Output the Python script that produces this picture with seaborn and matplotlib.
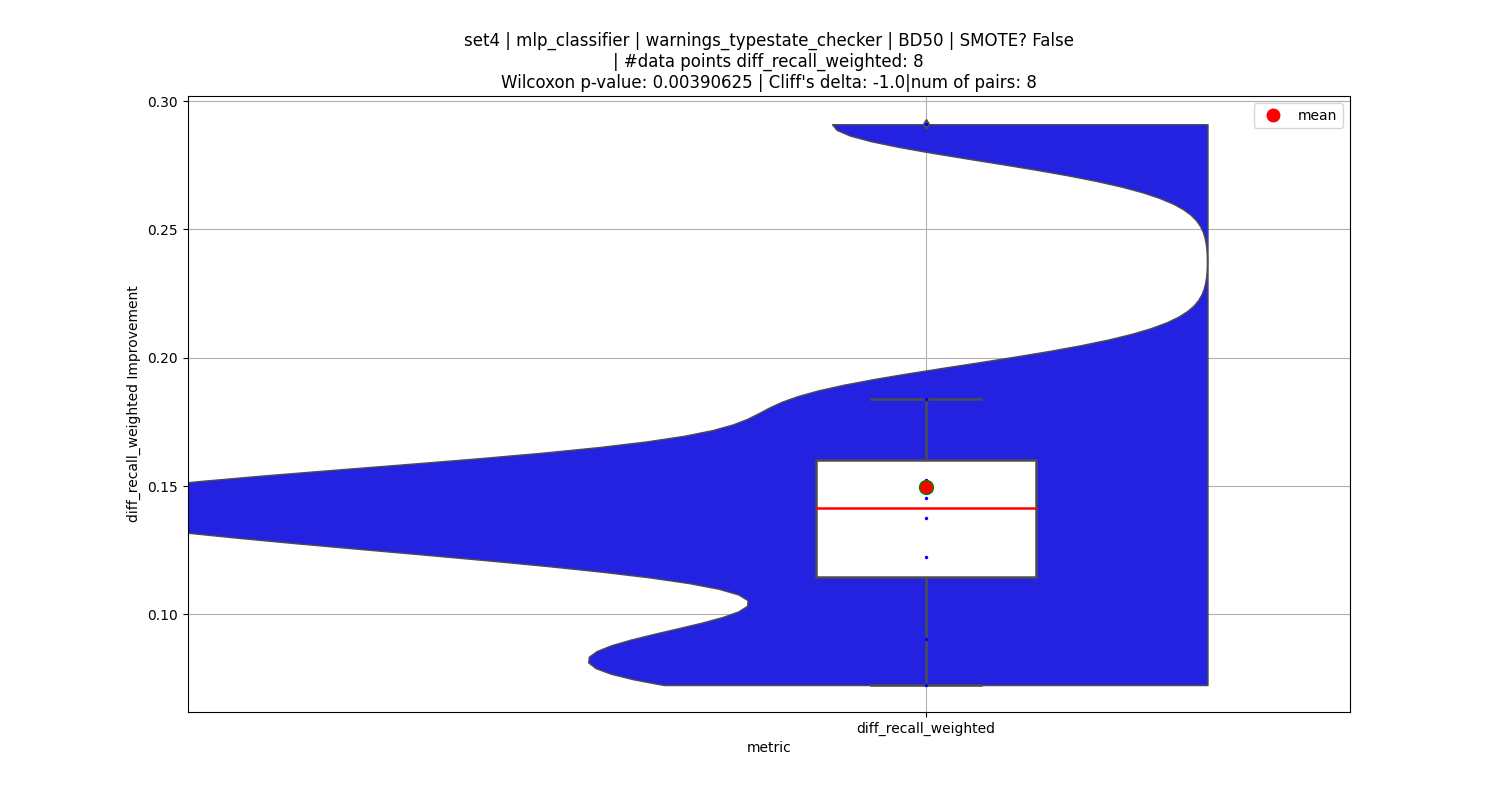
import matplotlib
matplotlib.use("Agg")
import matplotlib.pyplot as plt
import seaborn as sns
import numpy as np
import pandas as pd

values = [0.0725, 0.0905, 0.1225, 0.1375, 0.1455, 0.1525, 0.184, 0.291]
metric = "diff_recall_weighted"
title = ("set4 | mlp_classifier | warnings_typestate_checker | BD50 | SMOTE? False\n"
         "| #data points diff_recall_weighted: 8\n"
         "Wilcoxon p-value: 0.00390625 | Cliff's delta: -1.0|num of pairs: 8")

df = pd.DataFrame({"value": values, "pos": 0.0, "vpos": -1.076, "h": "a"})

fig, ax = plt.subplots(figsize=(15, 8), dpi=100)
sns.violinplot(data=df, x="vpos", y="value", hue="h", hue_order=["a", "b"], split=True,
               native_scale=True, inner=None, cut=0, bw_adjust=0.32, width=4.2,
               density_norm="width", palette=["#2222e0", "#2222e0"], saturation=1,
               linecolor="#4d4d4d", linewidth=1, legend=False, ax=ax)
for c in ax.collections:
    c.set_zorder(1)
sns.boxplot(data=df, x="pos", y="value", native_scale=True, width=0.8,
            color="white", linecolor="#4d4d4d", linewidth=1.8,
            medianprops=dict(color="red"),
            flierprops=dict(marker="d", markerfacecolor="#4d4d4d", markeredgecolor="#4d4d4d", markersize=5),
            ax=ax)
sns.stripplot(data=df, x="pos", y="value", native_scale=True, jitter=False,
              color="blue", size=2.5, ax=ax)
ax.plot([0], [np.mean(values)], "o", color="red", markeredgecolor="green",
        markersize=10, linestyle="none", zorder=5)
ax.legend(handles=[plt.Line2D([], [], marker="o", color="red", linestyle="none",
                              markersize=9, label="mean")], loc="upper right")
ax.set_xlim(-2.684, 1.542)
ax.set_ylim(0.062, 0.302)
ax.set_xticks([0])
ax.set_xticklabels([metric])
ax.set_xlabel("metric")
ax.set_ylabel("diff_recall_weighted Improvement")
ax.grid(True, color="#b0b0b0")
ax.set_axisbelow(True)
ax.set_title(title)
fig.savefig("out.png")
